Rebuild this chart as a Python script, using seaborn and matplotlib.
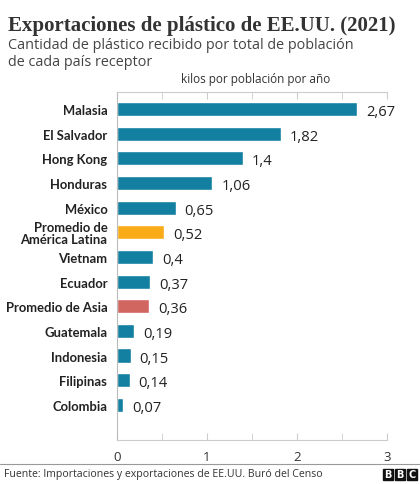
import pandas as pd
import matplotlib.pyplot as plt
import seaborn as sns
from matplotlib.patches import Rectangle
from matplotlib.ticker import MultipleLocator

paises = ['Malasia', 'El Salvador', 'Hong Kong', 'Honduras', 'México',
          'Promedio de\nAmérica Latina', 'Vietnam', 'Ecuador', 'Promedio de Asia',
          'Guatemala', 'Indonesia', 'Filipinas', 'Colombia']
kilos = [2.67, 1.82, 1.4, 1.06, 0.65, 0.52, 0.4, 0.37, 0.36, 0.19, 0.15, 0.14, 0.07]
etiquetas = ['2,67', '1,82', '1,4', '1,06', '0,65', '0,52', '0,4', '0,37', '0,36',
             '0,19', '0,15', '0,14', '0,07']
grupo = ['país'] * 5 + ['latam'] + ['país'] * 2 + ['asia'] + ['país'] * 4

colores = {'país': '#1380A1', 'latam': '#FAAB18', 'asia': '#D1655F'}

df = pd.DataFrame({'pais': paises, 'kilos': kilos, 'grupo': grupo})

sns.set_style('white')
plt.rcParams['font.family'] = ['Open Sans', 'DejaVu Sans']

fig = plt.figure(figsize=(4.2, 4.85), dpi=100)
ax = fig.add_axes([117 / 420, 1 - 441 / 485, 270 / 420, 348 / 485])

sns.barplot(data=df, y='pais', x='kilos', hue='grupo', palette=colores,
            dodge=False, legend=False, width=0.58, ax=ax, saturation=1)

# etiquetas de valor con coma decimal
for i, (v, t) in enumerate(zip(kilos, etiquetas)):
    ax.text(v + 0.1, i + 0.1, t, va='center', ha='left', fontsize=10.6,
            fontweight='medium', color='#222222')

ax.set_xlim(0, 3)
ax.set_ylim(13.42, -0.69)
ax.set_xlabel('')
ax.set_ylabel('')
ax.xaxis.set_major_locator(MultipleLocator(1))
ax.xaxis.set_minor_locator(MultipleLocator(0.5))
ax.tick_params(axis='x', which='both', direction='in', length=5, color='#cccccc',
               top=True, bottom=True, labelsize=9.5, labelcolor='#333333', pad=7)
ax.tick_params(axis='y', length=0, pad=7)
for lab in ax.get_yticklabels():
    lab.set_family('Lato')
    lab.set_fontweight('bold')
    lab.set_fontsize(9.4)
    lab.set_color('#222222')
    lab.set_linespacing(0.95)
for s in ['top', 'bottom']:
    ax.spines[s].set_color('#cccccc')
    ax.spines[s].set_linewidth(0.8)
ax.spines['right'].set_visible(False)
ax.spines['left'].set_color('#bbbbbb')
ax.spines['left'].set_linewidth(0.8)

fig.text(8 / 420, 1 - 26 / 485, 'Exportaciones de plástico de EE.UU. (2021)',
         family='Liberation Serif', fontweight='bold', fontsize=15, color='#333333',
         va='center')
fig.text(8 / 420, 1 - 54 / 485, 'Cantidad de plástico recibido por total de población\nde cada país receptor',
         fontsize=10.35, color='#444444', va='center', linespacing=1.1)
fig.text(256 / 420, 1 - 80 / 485, 'kilos por población por año',
         fontsize=8.5, color='#333333', va='center', ha='center')

fig.add_artist(plt.Line2D([0, 1], [1 - 465 / 485] * 2, color='#999999', lw=0.8))
fig.text(4 / 420, 1 - 475 / 485, 'Fuente: Importaciones y exportaciones de EE.UU. Buró del Censo',
         fontsize=7.6, color='#333333', va='center')
for k, letra in enumerate('BBC'):
    x0 = 383 + k * 12
    fig.add_artist(Rectangle((x0 / 420, 1 - 481 / 485), 10 / 420, 11 / 485,
                             color='#111111', transform=fig.transFigure))
    fig.text((x0 + 5) / 420, 1 - 475.5 / 485, letra, fontsize=7, fontweight='bold',
             color='white', ha='center', va='center', family='DejaVu Sans')

fig.savefig('out.png', dpi=100)
